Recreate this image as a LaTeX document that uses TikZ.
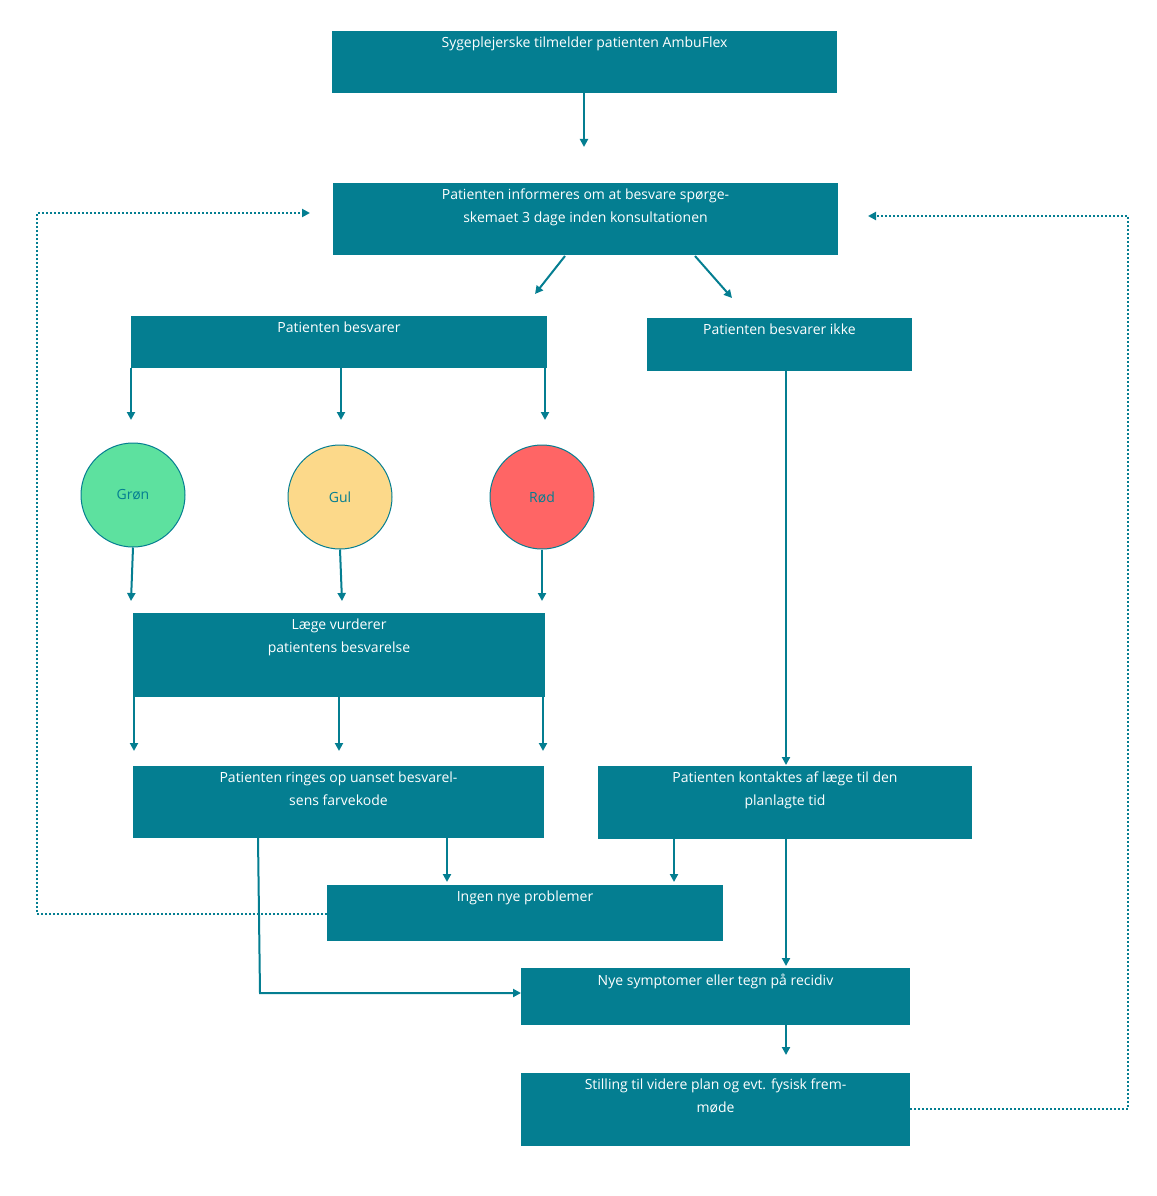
\documentclass[tikz,border=0pt]{standalone}
\usepackage{fontspec}
\setmainfont{Open Sans}
\usetikzlibrary{arrows.meta}
\definecolor{teal}{HTML}{047E91}
\definecolor{gr}{HTML}{5DE19F}
\definecolor{ye}{HTML}{FCD98A}
\definecolor{rd}{HTML}{FF6565}
\begin{document}
\begin{tikzpicture}[x=1pt,y=-1pt,
 box/.style={fill=teal,text=white,font=\fontsize{14}{23}\selectfont,align=center,inner sep=0pt},
 circ/.style={circle,draw=teal,line width=1pt,minimum size=104pt,text=teal,font=\fontsize{14}{17}\selectfont},
 arr/.style={draw=teal,line width=2pt,-{Triangle[width=8pt,length=8pt]}},
 dot/.style={draw=teal,line width=2pt,dotted,-{Triangle[width=8pt,length=8pt]}}]
\useasboundingbox (0,0) rectangle (1156,1196);
\newcommand{\bx}[6]{\fill[teal] (#2,#3) rectangle (#4,#5); \node[box,anchor=north] (#1) at ({(#2+#4)/2},{#3+6}) {#6}; \coordinate (#1nw) at (#2,#3); \coordinate (#1se) at (#4,#5);}
\bx{top}{332}{31}{837}{93}{Sygeplejerske tilmelder patienten AmbuFlex}
\bx{inf}{333}{183}{838}{255}{Patienten informeres om at besvare spørge-\\skemaet 3 dage inden konsultationen}
\bx{bes}{131}{316}{547}{368}{Patienten besvarer}
\bx{ikke}{647}{318}{912}{371}{Patienten besvarer ikke}
\bx{laege}{133}{613}{545}{697}{Læge vurderer\\patientens besvarelse}
\bx{ring}{133}{766}{544}{838}{Patienten ringes op uanset besvarel-\\sens farvekode}
\bx{kont}{598}{766}{972}{839}{Patienten kontaktes af læge til den\\planlagte tid}
\bx{ingen}{327}{885}{723}{941}{Ingen nye problemer}
\bx{nye}{521}{968}{910}{1025}{Nye symptomer eller tegn på recidiv}
\bx{still}{521}{1073}{910}{1146}{Stilling til videre plan og evt. fysisk frem-\\møde}
\node[circ,fill=gr] (g) at (133,495) {Grøn};
\node[circ,fill=ye] (y) at (340,497) {Gul};
\node[circ,fill=rd] (r) at (542,497) {Rød};
\draw[arr] (584,93) -- (584,147);
\draw[arr] (565,256) -- (535,294);
\draw[arr] (695,256) -- (732,298);
\foreach \x in {131,341,545} \draw[arr] (\x,368) -- (\x,420);
\draw[arr] (786,371) -- (786,765);
\foreach \x/\n in {131/g,342/y,542/r} \draw[arr] (\n.south) ++(0,0) -- (\x,601);
\foreach \x in {134,339,543} \draw[arr] (\x,697) -- (\x,751);
\draw[arr] (447,838) -- (447,882);
\draw[arr] (674,839) -- (674,882);
\draw[arr] (786,839) -- (786,966);
\draw[arr] (258,838) -- (260,993) -- (521,993);
\draw[arr] (786,1025) -- (786,1055);
\draw[dot] (327,914) -- (37,914) -- (37,213) -- (310,213);
\draw[dot] (910,1109) -- (1128,1109) -- (1128,216) -- (868,216);
\end{tikzpicture}
\end{document}
